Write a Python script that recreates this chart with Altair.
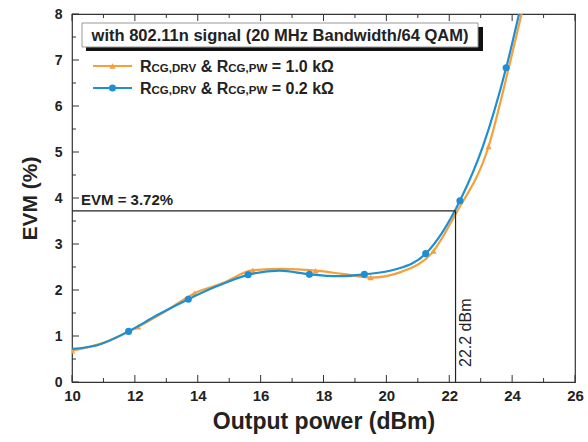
import altair as alt
import pandas as pd

# ---------------- data ----------------
# Series 1: R = 1.0 kOhm (orange, triangles)
orange_x = [10.0, 11.0, 12.1, 13.0, 13.9, 14.8, 15.75, 16.7, 17.75, 18.6, 19.5, 20.5, 21.5, 22.2, 23.25, 23.9, 24.3]
orange_y = [0.68, 0.85, 1.20, 1.55, 1.93, 2.15, 2.43, 2.46, 2.42, 2.35, 2.27, 2.40, 2.85, 3.65, 5.12, 6.85, 8.0]
orange_mx = [10.0, 12.1, 13.9, 15.75, 17.75, 19.5, 21.5, 23.25]
orange_my = [0.68, 1.20, 1.93, 2.43, 2.42, 2.27, 2.85, 5.12]

# Series 2: R = 0.2 kOhm (blue, circles)
blue_x = [10.0, 10.8, 11.8, 12.7, 13.7, 14.6, 15.6, 16.6, 17.55, 18.5, 19.3, 20.3, 21.25, 22.34, 23.07, 23.81, 24.22]
blue_y = [0.72, 0.80, 1.10, 1.45, 1.80, 2.08, 2.33, 2.42, 2.34, 2.30, 2.34, 2.45, 2.79, 3.94, 5.12, 6.83, 8.0]
blue_mx = [11.8, 13.7, 15.6, 17.55, 19.3, 21.25, 22.34, 23.81]
blue_my = [1.10, 1.80, 2.33, 2.34, 2.34, 2.79, 3.94, 6.83]

# legend label pieces: (text, is_small_caps)
legend_pieces = [
    [("R", False), ("CG,DRV", True), (" & R", False), ("CG,PW", True), (" = 1.0 kΩ", False)],
    [("R", False), ("CG,DRV", True), (" & R", False), ("CG,PW", True), (" = 0.2 kΩ", False)],
]
series_colors = ["#F4A03C", "#1E8FD2"]

x_major = [10, 12, 14, 16, 18, 20, 22, 24, 26]
x_minor = [11, 13, 15, 17, 19, 21, 23, 25]
y_major = [0, 1, 2, 3, 4, 5, 6, 7, 8]
y_minor = [0.5, 1.5, 2.5, 3.5, 4.5, 5.5, 6.5, 7.5]

evm_value = 3.72
pout_value = 22.2
box_title = "with 802.11n signal (20 MHz Bandwidth/64 QAM)"
evm_label = "EVM =  3.72%"
pout_label = "22.2 dBm"

# ---------------- layout ----------------
W, H = 503, 368
FONT = "Liberation Sans"
XS = alt.Scale(domain=[10, 26], nice=False, zero=False)
YS = alt.Scale(domain=[0, 8], nice=False, zero=False)
XA = alt.Axis(
    values=x_major, ticks=False, domain=False, grid=False, labelPadding=6,
    labelFlush=False, labelOverlap=False,
    labelFontSize=15, labelFontWeight="bold", labelFont=FONT, labelColor="#222",
    title="Output power (dBm)", titleFontSize=23, titleFontWeight="bold",
    titleFont=FONT, titleColor="#222", titlePadding=7)
YA = alt.Axis(
    values=y_major, ticks=False, domain=False, grid=False, labelPadding=10,
    labelFlush=False, labelOverlap=False,
    labelFontSize=14, labelFontWeight="bold", labelFont=FONT, labelColor="#222",
    title="EVM (%)", titleFontSize=21, titleFontWeight="bold",
    titleFont=FONT, titleColor="#222", titlePadding=14)


def X(f):
    return alt.X(f, type="quantitative", scale=XS, axis=XA)


def Y(f):
    return alt.Y(f, type="quantitative", scale=YS, axis=YA)


orange_line = alt.Chart(pd.DataFrame({"x": orange_x, "y": orange_y})).mark_line(
    strokeWidth=2.2, interpolate="monotone", clip=True, color=series_colors[0]
).encode(x=X("x"), y=Y("y"))

tri = alt.Chart(pd.DataFrame({"x": orange_mx, "y": orange_my})).mark_point(
    shape="triangle-up", filled=True, size=40, opacity=1, color=series_colors[0], clip=True
).encode(x=X("x"), y=Y("y"))

blue_line = alt.Chart(pd.DataFrame({"x": blue_x, "y": blue_y})).mark_line(
    strokeWidth=2.2, interpolate="monotone", clip=True, color=series_colors[1]
).encode(x=X("x"), y=Y("y"))

dots = alt.Chart(pd.DataFrame({"x": blue_mx, "y": blue_my})).mark_point(
    shape="circle", filled=True, size=50, opacity=1, color=series_colors[1], clip=True
).encode(x=X("x"), y=Y("y"))


# ---------------- ticks (inside) ----------------
def ticks_x(vals, length, top):
    df = pd.DataFrame({"x": vals})
    if top:
        yv, y2v = 0, length
    else:
        yv, y2v = H, H - length
    return alt.Chart(df).mark_rule(color="#333", strokeWidth=1).encode(
        x=X("x"), y=alt.value(yv), y2=alt.value(y2v))


def ticks_y(vals, length):
    df = pd.DataFrame({"y": vals})
    return alt.Chart(df).mark_rule(color="#333", strokeWidth=1).encode(
        y=Y("y"), x=alt.value(0), x2=alt.value(length))


tick_layers = [
    ticks_x(x_major, 7, False), ticks_x(x_minor, 4, False),
    ticks_x(x_major, 7, True), ticks_x(x_minor, 4, True),
    ticks_y(y_major, 7), ticks_y(y_minor, 4),
]

# ---------------- annotations ----------------
ann_df = pd.DataFrame({"x0": [10], "x1": [pout_value], "y0": [0], "y1": [evm_value]})
hline = alt.Chart(ann_df).mark_rule(color="#222", strokeWidth=1.2).encode(
    x=X("x0"), x2="x1:Q", y=Y("y1"))
vline = alt.Chart(ann_df).mark_rule(color="#222", strokeWidth=1.2).encode(
    x=X("x1"), y=Y("y0"), y2="y1:Q")

evm_text = alt.Chart(pd.DataFrame({"x": [10.0], "y": [evm_value], "t": [evm_label]})).mark_text(
    align="left", baseline="bottom", dx=9, dy=-3, fontSize=15, fontWeight="bold",
    font=FONT, color="#222"
).encode(x=X("x"), y=Y("y"), text="t:N")

pout_text = alt.Chart(pd.DataFrame({"x": [pout_value], "y": [0.0], "t": [pout_label]})).mark_text(
    align="left", baseline="middle", angle=270, dx=15, dy=10, fontSize=16, font=FONT, color="#222"
).encode(x=X("x"), y=Y("y"), text="t:N")

# ---------------- title box with shadow ----------------
box_shadow = alt.Chart(pd.DataFrame({"a": [0]})).mark_rect(color="#111").encode(
    x=alt.value(14), x2=alt.value(411), y=alt.value(13), y2=alt.value(37))
box = alt.Chart(pd.DataFrame({"a": [0]})).mark_rect(
    fill="white", stroke="#999", strokeWidth=1).encode(
    x=alt.value(10), x2=alt.value(406), y=alt.value(9), y2=alt.value(33))
box_text = alt.Chart(pd.DataFrame({"t": [box_title]})).mark_text(
    align="center", baseline="middle", fontSize=16.5, fontWeight="bold", font=FONT, color="#222"
).encode(x=alt.value(208), y=alt.value(21.5), text="t:N")

# ---------------- custom legend ----------------
# Arial/Liberation Sans Bold advance widths (em) for layout of the label pieces
ADV = {"R": .722, "C": .722, "G": .778, ",": .278, "D": .722, "V": .667, "&": .722,
       " ": .278, "P": .667, "W": .944, "=": .584, "1": .556, ".": .278, "0": .556,
       "2": .556, "k": .556, "Ω": .768}
BIG, SMALL = 16, 11.5
leg_y = [52, 74]
leg_layers = []
for i, col in enumerate(series_colors):
    yy = leg_y[i]
    d = pd.DataFrame({"a": [0]})
    leg_layers.append(alt.Chart(d).mark_rule(color=col, strokeWidth=2.2).encode(
        x=alt.value(21), x2=alt.value(60), y=alt.value(yy)))
    leg_layers.append(alt.Chart(d).mark_point(
        shape="triangle-up" if i == 0 else "circle", filled=True, opacity=1,
        size=40 if i == 0 else 50, color=col).encode(x=alt.value(40.5), y=alt.value(yy)))
    xpos = 68.0
    for txt, small in legend_pieces[i]:
        fs = SMALL if small else BIG
        lead = len(txt) - len(txt.lstrip(" "))
        shown = txt.strip(" ")
        leg_layers.append(alt.Chart(pd.DataFrame({"t": [shown]})).mark_text(
            align="left", baseline="alphabetic", fontSize=fs, fontWeight="bold",
            font=FONT, color="#222").encode(
            x=alt.value(xpos + lead * ADV[" "] * fs), y=alt.value(yy + 6), text="t:N"))
        xpos += sum(ADV.get(c, 0.6) for c in txt) * fs

chart = alt.layer(
    orange_line, tri, blue_line, dots, *tick_layers, hline, vline, evm_text, pout_text,
    box_shadow, box, box_text, *leg_layers
).properties(
    width=W, height=H,
    padding={"left": 72, "top": 14, "right": 13, "bottom": 60},
    autosize=alt.AutoSizeParams(type="none"),
    background="white",
).configure_view(stroke="#333", strokeWidth=1.2)

chart.save("out.html", embed_options={"renderer": "svg", "actions": False})
